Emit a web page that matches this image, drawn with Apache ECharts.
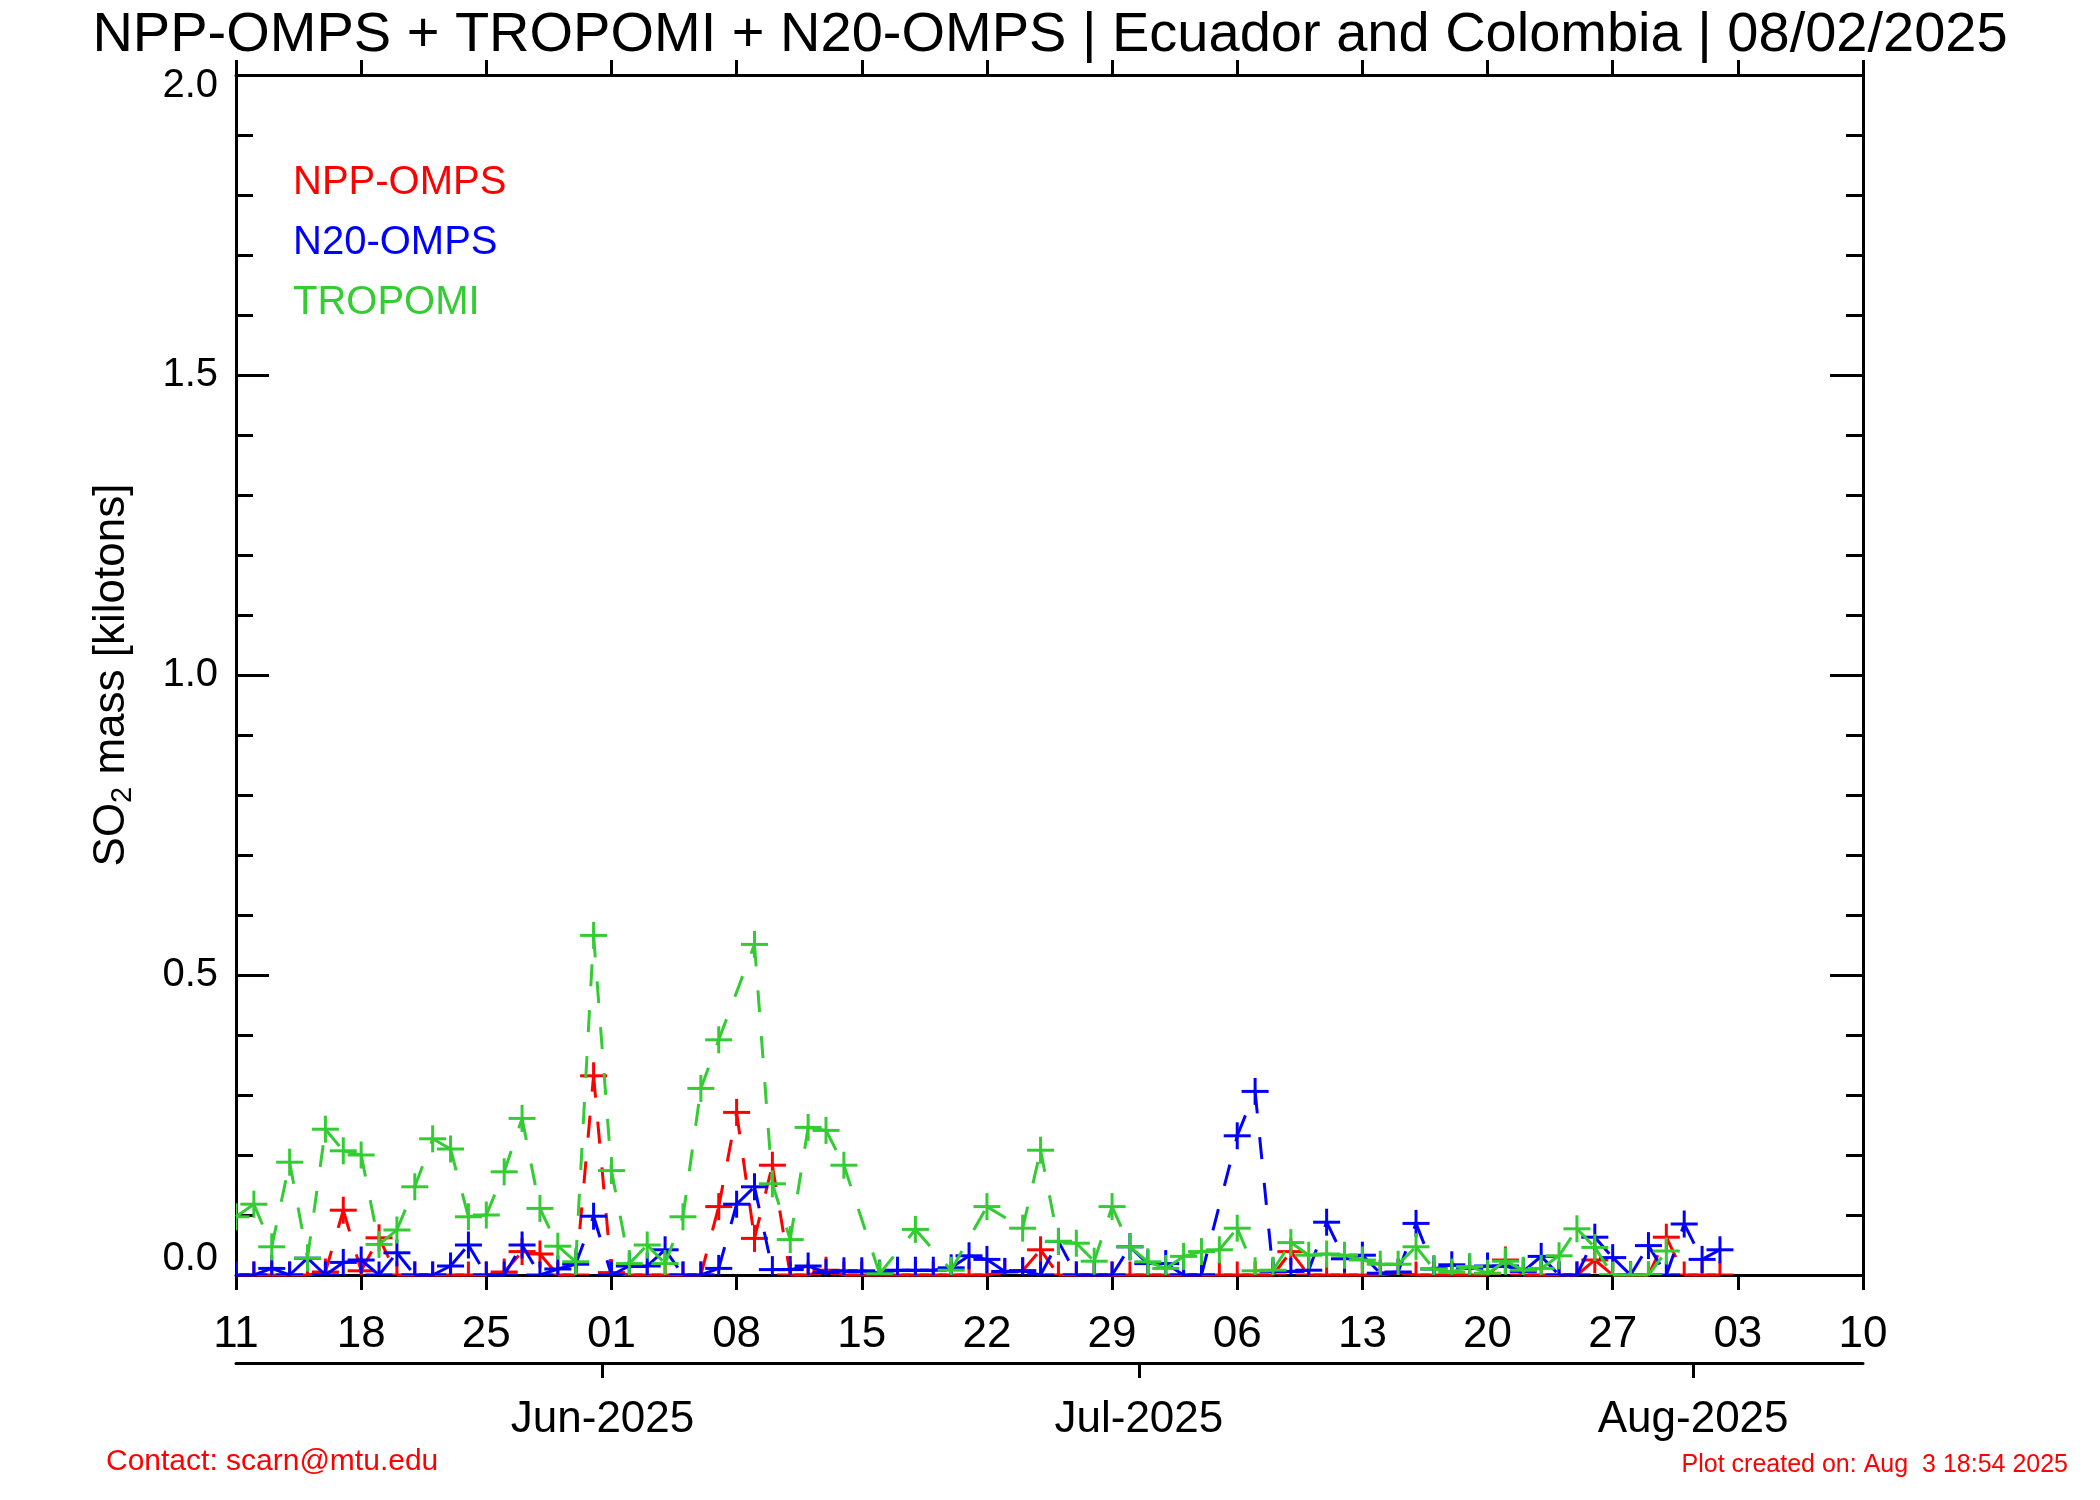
<!DOCTYPE html>
<html>
<head>
<meta charset="utf-8">
<script src="https://cdn.jsdelivr.net/npm/echarts@6/dist/echarts.min.js"></script>
<style>
html,body{margin:0;padding:0;background:#fff;}
#chart{width:2100px;height:1500px;}
</style>
</head>
<body>
<div id="chart"></div>
<script>
// Day index 0 = 2025-05-11 (one value per day, null = no retrieval)
const xTickLabels = ['11','18','25','01','08','15','22','29','06','13','20','27','03','10'];
const monthTickDays = [20.5, 50.5, 81.5];
const monthLabels = ['Jun-2025','Jul-2025','Aug-2025'];
const seriesNames = ['NPP-OMPS','N20-OMPS','TROPOMI'];
const seriesColors = ['#ff0000','#0000ff','#33cc33'];

const nppOmps = [
  0, 0, 0, 0, 0, 0.005, 0.108, 0.007, 0.062, 0,
  0, 0, 0, 0, 0, 0.005, 0.039, 0.035, 0, 0,
  0.332, 0.004, 0, 0, 0, 0, 0, 0.114, 0.271, 0.061,
  0.183, 0, 0, 0.008, 0, 0, 0, 0, 0, 0,
  0, 0, 0, 0.005, 0.007, 0.042, 0, 0, 0, 0,
  0, 0, 0, 0, 0, 0, 0, 0, 0, 0.039,
  0, 0, 0, 0, 0, 0.004, 0, 0, 0, 0,
  0, 0.025, 0, 0, 0, 0, 0.025, 0, 0, 0,
  0.063, 0, 0, 0
];
const n20Omps = [
  0, 0, 0.011, 0, 0.028, 0, 0.021, 0.025, 0, 0.037,
  0, 0, 0.015, 0.05, 0, 0, 0.05, 0, 0.01, 0.018,
  0.098, 0, 0.015, 0.015, 0.042, 0, 0, 0.011, 0.118, 0.147,
  0.009, 0.009, 0.015, 0.004, 0.007, 0.007, 0.003, 0.008, 0.008, 0.008,
  0.012, 0.032, 0.026, 0.006, 0.007, 0, 0.056, 0, 0, 0,
  0.047, 0.019, 0.019, 0, 0, null, 0.232, 0.306, 0.006, 0.006,
  0.008, 0.088, 0.027, 0.033, 0.003, 0.005, 0.086, 0.01, 0.017, 0.011,
  0.015, 0.015, 0.006, 0.031, 0, 0, 0.063, 0.029, 0, 0.049,
  0, 0.085, 0.026, 0.042
];
const tropomi = [
  0.097, 0.118, 0.047, 0.188, 0.028, 0.243, 0.207, 0.2, 0.051, 0.075,
  0.147, 0.227, 0.21, 0.097, 0.1, 0.172, 0.261, 0.111, 0.048, 0.022,
  0.566, 0.174, 0.019, 0.05, 0.019, 0.097, 0.311, 0.392, null, 0.551,
  0.152, 0.059, 0.246, 0.241, 0.183, null, 0.002, null, 0.076, null,
  0.008, null, 0.114, null, 0.078, 0.208, 0.056, 0.053, 0.023, 0.114,
  0.047, 0.022, 0.011, 0.031, 0.039, 0.042, 0.078, 0.007, 0.008, 0.054,
  0.033, 0.035, 0.033, 0.025, 0.018, 0.018, 0.047, 0.01, 0.005, 0.014,
  0.003, 0.023, 0.008, 0.011, 0.032, 0.077, 0.046, 0, 0, 0,
  0.04
];
const allValues = [nppOmps, n20Omps, tropomi];

const FONT = '"Liberation Sans", Arial, Helvetica, sans-serif';
const PLUS_HALF = 13.5;   // half size of the "+" marker in px
const PLUS_THICK = 3;     // stroke thickness of the "+" marker

function buildPoints(vals) {
  const pts = [];
  vals.forEach((v, i) => { if (v !== null) pts.push([i, v]); });
  return pts;
}
function buildSegments(pts) {
  const segs = [];
  for (let k = 0; k < pts.length - 1; k++) segs.push({ coords: [pts[k], pts[k + 1]] });
  return segs;
}
function plusRenderer(color) {
  return function (params, api) {
    const p = api.coord([api.value(0), api.value(1)]);
    return {
      type: 'group',
      children: [
        { type: 'rect', shape: { x: p[0] - PLUS_HALF, y: p[1] - PLUS_THICK / 2, width: 2 * PLUS_HALF, height: PLUS_THICK },
          style: { fill: color } },
        { type: 'rect', shape: { x: p[0] - PLUS_THICK / 2, y: p[1] - PLUS_HALF, width: PLUS_THICK, height: 2 * PLUS_HALF },
          style: { fill: color } }
      ]
    };
  };
}

const series = [];
allValues.forEach((vals, s) => {
  const pts = buildPoints(vals);
  series.push({
    type: 'lines', name: seriesNames[s], coordinateSystem: 'cartesian2d',
    xAxisIndex: 0, yAxisIndex: 0, silent: true, z: 2, clip: true,
    data: buildSegments(pts),
    lineStyle: { color: seriesColors[s], width: 3, type: [22, 24], opacity: 1, cap: 'butt' }
  });
  series.push({
    type: 'custom', name: seriesNames[s], xAxisIndex: 0, yAxisIndex: 0, z: 2, clip: true,
    data: pts, encode: { x: 0, y: 1 },
    itemStyle: { color: seriesColors[s] },
    renderItem: plusRenderer(seriesColors[s])
  });
});

const axisColor = '#000';
const chart = echarts.init(document.getElementById('chart'), null, { renderer: 'canvas' });
chart.setOption({
  animation: false,
  backgroundColor: '#fff',
  textStyle: { fontFamily: FONT },
  title: [
    { text: 'NPP-OMPS + TROPOMI + N20-OMPS | Ecuador and Colombia | 08/02/2025',
      left: 'center', top: 3,
      textStyle: { fontSize: 56, fontWeight: 'normal', color: '#000', fontFamily: FONT } },
    { text: 'Contact: scarn@mtu.edu', left: 101, top: 1442,
      textStyle: { fontSize: 30, fontWeight: 'normal', color: '#ff0000', fontFamily: FONT } },
    { text: 'Plot created on: Aug  3 18:54 2025', right: 27, top: 1448,
      textStyle: { fontSize: 25, fontWeight: 'normal', color: '#ff0000', fontFamily: FONT } }
  ],
  legend: {
    orient: 'vertical', left: 282, top: 158, itemGap: 20,
    itemWidth: 0, itemHeight: 0, icon: 'rect', selectedMode: false,
    textStyle: { fontSize: 40, lineHeight: 40, fontFamily: FONT },
    data: seriesNames.map((n, i) => ({ name: n, textStyle: { color: seriesColors[i] } }))
  },
  grid: { left: 236, top: 75, width: 1627, height: 1200, containLabel: false },
  xAxis: [
    { type: 'value', position: 'bottom', min: 0, max: 91, interval: 7,
      axisLine: { show: true, onZero: false, lineStyle: { color: axisColor, width: 3 } },
      axisTick: { show: true, inside: false, length: 15, lineStyle: { color: axisColor, width: 3 } },
      axisLabel: { show: true, fontSize: 44, color: '#000', margin: 38, fontFamily: FONT,
        formatter: v => xTickLabels[Math.round(v / 7)] },
      splitLine: { show: false } },
    { type: 'value', position: 'top', min: 0, max: 91, interval: 7,
      axisLine: { show: true, onZero: false, lineStyle: { color: axisColor, width: 3 } },
      axisTick: { show: true, inside: false, length: 15, lineStyle: { color: axisColor, width: 3 } },
      axisLabel: { show: false }, splitLine: { show: false } },
    { type: 'value', position: 'bottom', offset: 88, min: 0, max: 91,
      axisLine: { show: true, onZero: false, lineStyle: { color: axisColor, width: 3 } },
      axisTick: { show: true, inside: false, length: 15, customValues: monthTickDays,
        lineStyle: { color: axisColor, width: 3 } },
      axisLabel: { show: true, fontSize: 44, color: '#000', margin: 35, fontFamily: FONT,
        customValues: monthTickDays,
        formatter: v => monthLabels[monthTickDays.indexOf(v)] },
      splitLine: { show: false } }
  ],
  yAxis: [
    { type: 'value', position: 'left', min: 0, max: 2, interval: 0.5,
      axisLine: { show: true, onZero: false, lineStyle: { color: axisColor, width: 3 } },
      axisTick: { show: true, inside: true, length: 33, lineStyle: { color: axisColor, width: 3 } },
      minorTick: { show: true, splitNumber: 5, length: 17, lineStyle: { color: axisColor, width: 3 } },
      splitLine: { show: false }, minorSplitLine: { show: false },
      axisLabel: { show: true, fontSize: 40, color: '#000', margin: 18, fontFamily: FONT,
        formatter: v => v === 2 ? '{top|2.0}' : (v === 0 ? '{bot|0.0}' : v.toFixed(1)),
        rich: {
          top: { fontSize: 40, fontFamily: FONT, padding: [22, 0, 0, 0] },
          bot: { fontSize: 40, fontFamily: FONT, padding: [0, 0, 32, 0] }
        } },
      name: 'SO{sub|2} mass [kilotons]', nameLocation: 'middle', nameRotate: 90, nameGap: 99,
      nameTextStyle: { fontSize: 44, color: '#000', fontFamily: FONT, lineHeight: 50,
        rich: { sub: { fontSize: 29, lineHeight: 29, verticalAlign: 'bottom', fontFamily: FONT } } } },
    { type: 'value', position: 'right', min: 0, max: 2, interval: 0.5,
      axisLine: { show: true, onZero: false, lineStyle: { color: axisColor, width: 3 } },
      axisTick: { show: true, inside: true, length: 33, lineStyle: { color: axisColor, width: 3 } },
      minorTick: { show: true, splitNumber: 5, length: 17, lineStyle: { color: axisColor, width: 3 } },
      splitLine: { show: false }, minorSplitLine: { show: false },
      axisLabel: { show: false } }
  ],
  series: series
});
</script>
</body>
</html>
